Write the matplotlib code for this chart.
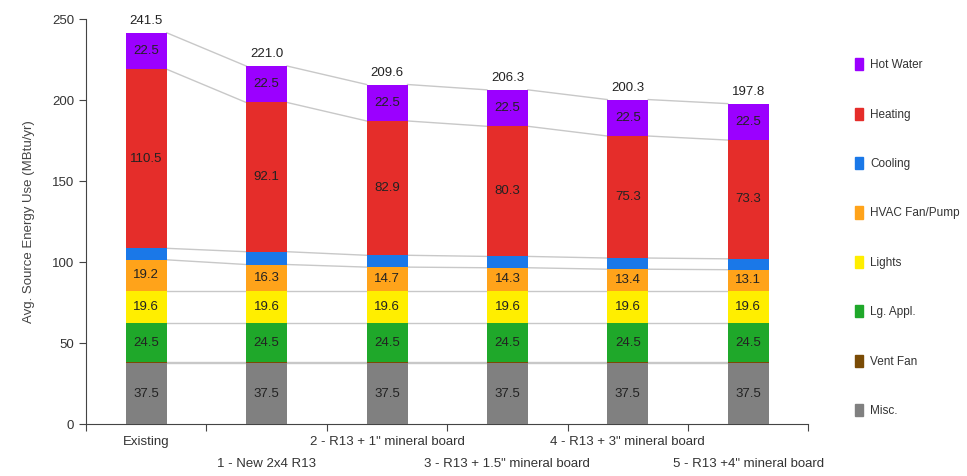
import numpy as np
import matplotlib
matplotlib.use('Agg')
import matplotlib.pyplot as plt
from matplotlib.patches import Patch

plt.rcParams['font.family'] = ['Liberation Sans', 'DejaVu Sans']

# categories and energy use by end use (MBtu/yr)
categories = ['Existing', '1 - New 2x4 R13', '2 - R13 + 1" mineral board',
              '3 - R13 + 1.5" mineral board', '4 - R13 + 3" mineral board',
              '5 - R13 +4" mineral board']
misc = [37.5, 37.5, 37.5, 37.5, 37.5, 37.5]
vent_fan = [0.6, 0.6, 0.6, 0.6, 0.6, 0.6]
lg_appl = [24.5, 24.5, 24.5, 24.5, 24.5, 24.5]
lights = [19.6, 19.6, 19.6, 19.6, 19.6, 19.6]
hvac_fan = [19.2, 16.3, 14.7, 14.3, 13.4, 13.1]
cooling = [7.1, 7.9, 7.3, 7.0, 6.9, 6.7]
heating = [110.5, 92.1, 82.9, 80.3, 75.3, 73.3]
hot_water = [22.5, 22.5, 22.5, 22.5, 22.5, 22.5]
totals = [241.5, 221.0, 209.6, 206.3, 200.3, 197.8]

series = [
    ('Misc.', misc, '#808080', True),
    ('Vent Fan', vent_fan, '#7a4b05', False),
    ('Lg. Appl.', lg_appl, '#1fa82a', True),
    ('Lights', lights, '#ffee00', True),
    ('HVAC Fan/Pump', hvac_fan, '#ffa31a', True),
    ('Cooling', cooling, '#1a78e8', False),
    ('Heating', heating, '#e52d2a', True),
    ('Hot Water', hot_water, '#9b00ff', True),
]

fig = plt.figure(figsize=(9.67, 4.76), dpi=100)
ax = fig.add_axes([0.089, 0.109, 0.747, 0.851])

x = np.arange(len(categories))
w = 0.34
bottom = np.zeros(len(categories))
tops = []
for name, vals, col, show in series:
    vals = np.array(vals)
    ax.bar(x, vals, w, bottom=bottom, color=col, zorder=3)
    if show:
        for xi, b, v in zip(x, bottom, vals):
            ax.text(xi, b + v / 2, '%.1f' % v, ha='center', va='center',
                    fontsize=9.5, color='#222222', zorder=4)
    bottom = bottom + vals
    tops.append(bottom.copy())

# grey connector lines between bars
for t in tops:
    for i in range(len(x) - 1):
        ax.plot([x[i] + w / 2, x[i + 1] - w / 2], [t[i], t[i + 1]],
                color='#c8c8c8', lw=1, zorder=2)

for xi, tot in zip(x, totals):
    ax.text(xi, tot + 3.5, '%.1f' % tot, ha='center', va='bottom',
            fontsize=9.5, color='#222222')

ax.set_xlim(-0.5, len(categories) - 0.5)
ax.set_ylim(0, 250)
ax.set_yticks([0, 50, 100, 150, 200, 250])
ax.set_xticks(np.arange(len(categories) + 1) - 0.5)
ax.set_xticklabels([])
ax.tick_params(axis='both', colors='#444444', labelcolor='#333333',
               labelsize=9.5, length=5)
for xi, lab in zip(x, categories):
    yoff = -0.03 if xi % 2 == 0 else -0.084
    ax.text(xi, yoff, lab, transform=ax.get_xaxis_transform(), ha='center',
            va='top', fontsize=9.5, color='#333333')

for s in ['top', 'right']:
    ax.spines[s].set_visible(False)
for s in ['left', 'bottom']:
    ax.spines[s].set_color('#444444')

ax.set_ylabel('Avg. Source Energy Use (MBtu/yr)', fontsize=9.5, color='#444444',
              labelpad=12)

handles = [Patch(color=col, label=name) for name, vals, col, show in series[::-1]]
fig.legend(handles=handles, loc='upper left', bbox_to_anchor=(0.873, 0.9),
           frameon=False, fontsize=8.5, labelspacing=3.08, handlelength=0.7,
           handleheight=1.2, handletextpad=0.6, labelcolor='#333333')

fig.savefig('out.png', dpi=100)
